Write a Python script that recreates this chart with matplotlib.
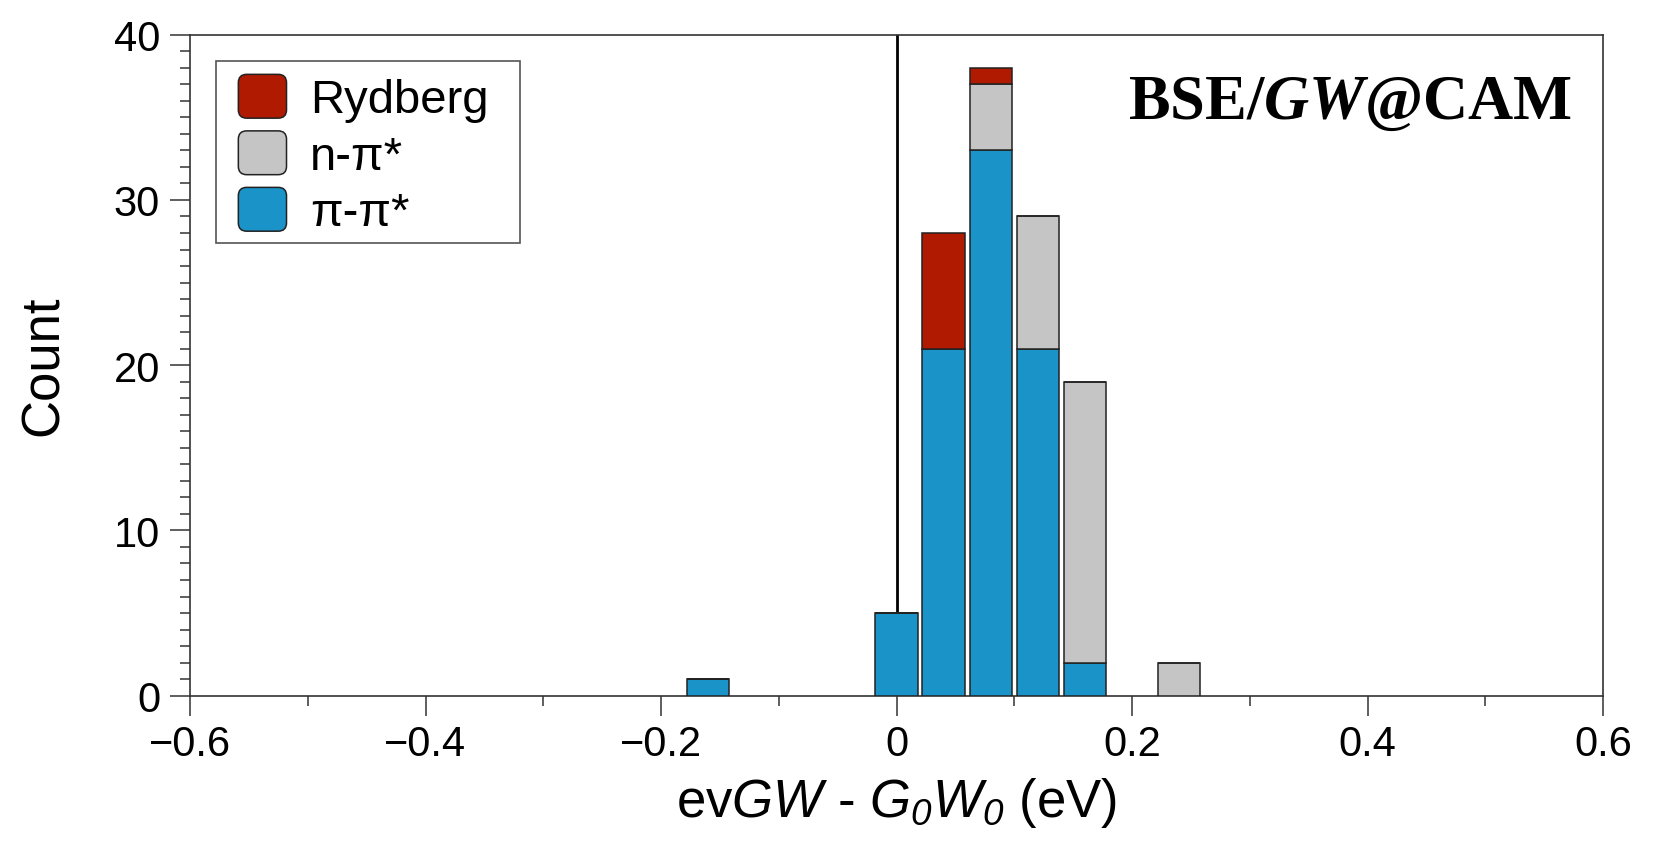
import matplotlib
matplotlib.use("Agg")
import matplotlib.pyplot as plt
import numpy as np
from matplotlib.patches import FancyBboxPatch, Patch, Rectangle
from matplotlib.legend_handler import HandlerBase
from matplotlib.ticker import MultipleLocator, FuncFormatter

plt.rcParams['font.family'] = ['Liberation Sans', 'DejaVu Sans']
plt.rcParams['mathtext.fontset'] = 'custom'
plt.rcParams['mathtext.rm'] = 'Liberation Sans'
plt.rcParams['mathtext.it'] = 'Liberation Sans:italic'
plt.rcParams['mathtext.sf'] = 'Liberation Sans:italic'
plt.rcParams['mathtext.bf'] = 'Liberation Serif:bold'
plt.rcParams['mathtext.bfit'] = 'Liberation Serif:bold:italic'

# Data
bin_centers = [-0.16, 0.0, 0.04, 0.08, 0.12, 0.16, 0.24]
pi_pi = [1, 5, 21, 33, 21, 2, 0]
n_pi = [0, 0, 0, 4, 8, 17, 2]
rydberg = [0, 0, 7, 1, 0, 0, 0]
series_labels = ['Rydberg', 'n-π*', 'π-π*']
colors = {'Rydberg': '#b01a00', 'n-π*': '#c5c5c5', 'π-π*': '#1a93c8'}

fig = plt.figure(figsize=(16.61, 8.54), dpi=100)
ax = fig.add_axes([0.1144, 0.1842, 0.8507, 0.774])

x = np.array(bin_centers)
w = 0.036
ec = '#222222'
lw = 1.1
pp = np.array(pi_pi)
npi = np.array(n_pi)
ry = np.array(rydberg)
ax.bar(x, pp, width=w, color=colors['π-π*'], edgecolor=ec, linewidth=lw, zorder=3)
ax.bar(x, npi, width=w, bottom=pp, color=colors['n-π*'], edgecolor=ec, linewidth=lw, zorder=3)
ax.bar(x, ry, width=w, bottom=pp + npi, color=colors['Rydberg'], edgecolor=ec, linewidth=lw, zorder=3)

ax.axvline(0, color='black', linewidth=2.0, zorder=2)

ax.set_xlim(-0.6, 0.6)
ax.set_ylim(0, 40)
ax.xaxis.set_major_locator(MultipleLocator(0.2))
ax.xaxis.set_minor_locator(MultipleLocator(0.1))
ax.yaxis.set_major_locator(MultipleLocator(10))
ax.yaxis.set_minor_locator(MultipleLocator(1))

def fmt(v, pos):
    if abs(v) < 1e-9:
        return '0'
    s = f'{v:.1f}'
    return s.replace('-', '\u2212')
ax.xaxis.set_major_formatter(FuncFormatter(fmt))

for s in ax.spines.values():
    s.set_linewidth(1.2)
    s.set_color('#333333')
ax.tick_params(axis='both', which='major', length=14.5, width=1.1, color='#333333',
               labelsize=30, direction='out')
ax.tick_params(axis='both', which='minor', length=7.5, width=1.1, color='#333333', direction='out')
ax.tick_params(axis='x', which='major', pad=6)
ax.tick_params(axis='y', which='major', pad=7)
ax.tick_params(top=False, right=False, which='both')

ax.set_ylabel('Count', fontsize=38, labelpad=32)
ax.set_xlabel(r'ev$\mathit{GW}$ - $\mathit{G}_{\mathsf{0}}\mathit{W}_{\mathsf{0}}$ (eV)',
              fontsize=38, labelpad=8)

ax.text(0.978, 0.874, r'$\mathbf{BSE/}\mathbfit{GW}\mathbf{@CAM}$', transform=ax.transAxes,
        ha='right', va='baseline', fontsize=45)


class RoundHandler(HandlerBase):
    def create_artists(self, legend, orig_handle, xdescent, ydescent, width, height, fontsize, trans):
        p = FancyBboxPatch((-xdescent, -ydescent), width, height,
                           boxstyle='round,pad=0,rounding_size=6',
                           facecolor=orig_handle.get_facecolor(),
                           edgecolor='#222222', linewidth=1.1, transform=trans)
        return [p]

# legend frame drawn as a rectangle in axes coordinates
frame = Rectangle((0.0182, 0.6849), 0.2153, 0.2758, transform=ax.transAxes,
                  facecolor='white', edgecolor='#555555', linewidth=1.2, zorder=4)
ax.add_patch(frame)

handles = [Patch(facecolor=colors[l]) for l in series_labels]
leg = ax.legend(handles, series_labels, loc='upper left', bbox_to_anchor=(0.0342, 0.940),
                fontsize=34, frameon=False,
                handlelength=1.02, handleheight=1.05,
                handletextpad=0.5, labelspacing=0.18, borderpad=0, borderaxespad=0,
                handler_map={Patch: RoundHandler()})
leg.set_zorder(5)

fig.savefig('out.png', dpi=100)
